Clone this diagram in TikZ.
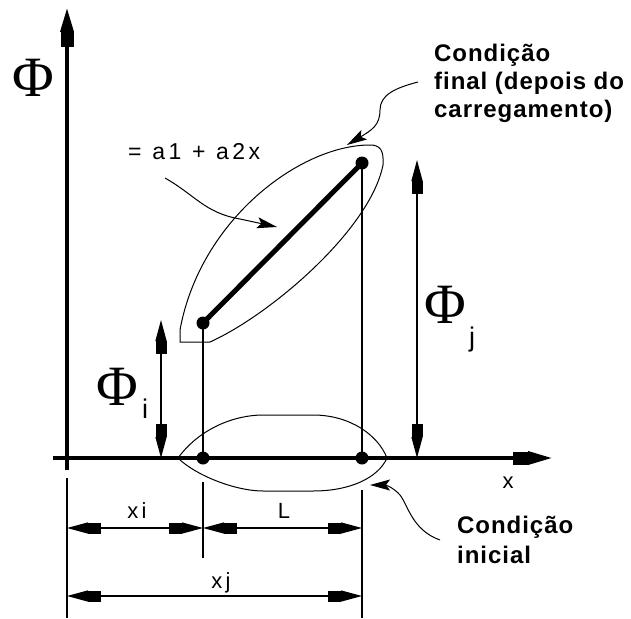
\documentclass[tikz,border=0pt]{standalone}
\usepackage{fontspec}
\setmainfont{Liberation Sans}
\newfontfamily\labfont{Liberation Sans}[LetterSpace=15]
\newfontfamily\boldfont{Liberation Sans}[LetterSpace=4]
\newfontfamily\phifont{Liberation Serif}
\usetikzlibrary{arrows.meta}
\tikzset{
  thinln/.style={line width=1.2pt},
  lensln/.style={line width=1pt},
  axisln/.style={line width=3.5pt,
    arrows={-{Rectangle[length=15pt,width=13pt]Triangle[length=24pt,width=13pt]}}},
  dimarr/.style={line width=1.2pt,
    arrows={{Triangle[length=21pt,width=11pt]Rectangle[length=13pt,width=11pt]}-{Rectangle[length=13pt,width=11pt]Triangle[length=21pt,width=11pt]}}},
  callout/.style={line width=1pt, arrows={-{Stealth[length=20pt,width=11pt,inset=4pt]}}},
  dot/.style={circle, fill=black, inner sep=0pt, minimum size=13pt},
  lab/.style={inner sep=0pt, font=\labfont\fontsize{22}{26}\selectfont},
  eqlab/.style={inner sep=0pt, font=\labfont\fontsize{23}{26}\selectfont},
  phil/.style={inner sep=0pt, font=\phifont\fontsize{57}{60}\selectfont},
  subl/.style={inner sep=0pt, font=\labfont\fontsize{27}{30}\selectfont},
  condf/.style={inner sep=0pt, align=left, font=\boldfont\bfseries\fontsize{24}{28}\selectfont},
  condi/.style={inner sep=0pt, align=left, font=\boldfont\bfseries\fontsize{24}{30}\selectfont},
}
\begin{document}
\begin{tikzpicture}[x=1pt,y=-1pt]
\useasboundingbox[fill=white] (0,0) rectangle (631,618);
% axes
\coordinate (yb) at (67,470);
\coordinate (yt) at (67,8);
\coordinate (xl) at (53,458);
\coordinate (xr) at (552,458);
\draw[axisln] (yb) -- (yt);
\draw[axisln] (xl) -- (xr);
% points
\node[dot] (Pi) at (203,458) {};
\node[dot] (Pj) at (362,458) {};
\node[dot] (Qi) at (203,323) {};
\node[dot] (Qj) at (362,163) {};
\draw[thinln] (Qi.center) -- (Pi.center);
\draw[thinln] (Qj.center) -- (Pj.center);
\draw[line width=5pt] (Qi.center) -- (Qj.center);
% lenses
\draw[lensln] (180,342) -- (210,342) .. controls (270,315) and (370,230) .. (383,165)
  .. controls (384,150) and (380,145) .. (370,145)
  .. controls (300,145) and (200,220) .. (180,330) -- cycle;
\draw[lensln] (178,458) .. controls (200,428) and (235,415) .. (263,415) -- (313,415)
  .. controls (350,415) and (378,435) .. (387,458)
  .. controls (378,478) and (350,491) .. (313,491) -- (263,491)
  .. controls (235,491) and (195,475) .. (178,458) -- cycle;
% extension lines
\coordinate (e0t) at (67,478);  \coordinate (e0b) at (67,618);
\coordinate (e1t) at (203,482); \coordinate (e1b) at (203,558);
\coordinate (e2t) at (362,490); \coordinate (e2b) at (362,618);
\draw[thinln] (e0t) -- (e0b);
\draw[thinln] (e1t) -- (e1b);
\draw[thinln] (e2t) -- (e2b);
% dimensions
\coordinate (d1a) at (67,528);  \coordinate (d1b) at (203,528);
\coordinate (d2a) at (203,528); \coordinate (d2b) at (362,528);
\coordinate (d3a) at (67,596);  \coordinate (d3b) at (362,596);
\draw[dimarr] (d1a) -- (d1b);
\draw[dimarr] (d2a) -- (d2b);
\draw[dimarr] (d3a) -- (d3b);
\coordinate (fia) at (161,320); \coordinate (fib) at (161,458);
\coordinate (fja) at (417,160); \coordinate (fjb) at (417,458);
\draw[dimarr] (fia) -- (fib);
\draw[dimarr] (fja) -- (fjb);
% labels
\node[phil, anchor=base] (phiax) at (33,96) {Φ};
\node[phil, anchor=base] (phii) at (117,405) {Φ};
\node[subl, anchor=base west] (subi) at (142,418) {i};
\node[phil, anchor=base] (phij) at (445,323) {Φ};
\node[subl, anchor=base west] (subj) at (469,346) {j};
\node[lab, anchor=base] (lxi) at (137,518) {xi};
\node[lab, anchor=base] (lL) at (284,518) {L};
\node[lab, anchor=base] (lxj) at (221,588) {xj};
\node[lab, anchor=base] (lx) at (508,488) {x};
\node[eqlab, anchor=base west] (eq) at (128,159) {\makebox[132pt][l]{=\hfill a1\hfill +\hfill a2x}};
\node[condf, anchor=base west] (cf) at (434,117) {Condição\\final (depois do\\carregamento)};
\node[condi, anchor=base west] (ci) at (457,563) {Condição\\inicial};
% callouts
\coordinate (c1s) at (165,178);
\coordinate (c1e) at (277,227);
\draw[callout] (c1s) .. controls (195,195) and (205,213) .. (240,219) -- (c1e);
\coordinate (c2s) at (418,82);
\coordinate (c2e) at (347,145);
\draw[callout] (c2s) .. controls (395,88) and (380,95) .. (380,110) .. controls (380,125) and (372,130) .. (c2e);
\coordinate (c3s) at (440,540);
\coordinate (c3e) at (370,485);
\draw[callout] (c3s) .. controls (412,530) and (408,505) .. (400,495) .. controls (393,487) and (385,485) .. (c3e);
\end{tikzpicture}
\end{document}
